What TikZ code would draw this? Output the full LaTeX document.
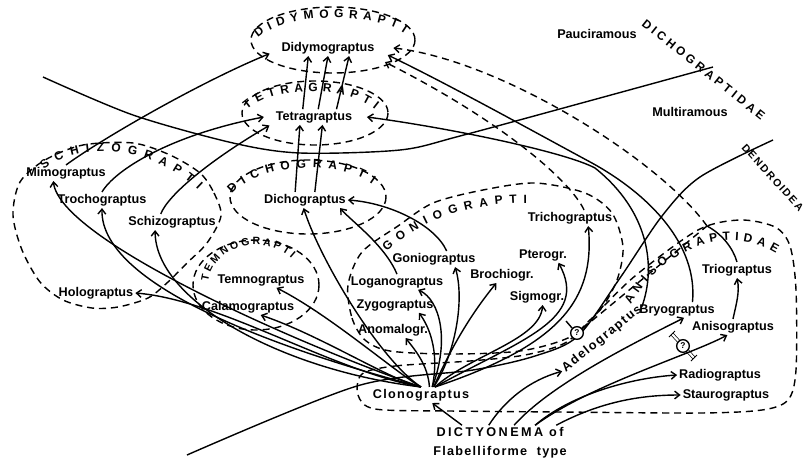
\documentclass[tikz,border=0pt]{standalone}
\usepackage{fontspec}
\setmainfont{Liberation Sans}
\newfontfamily\widefont[LetterSpace=19]{Liberation Sans}
\usetikzlibrary{arrows.meta,decorations.text}
\newcommand{\grpfont}{\fontsize{8.5}{9}\selectfont\bfseries}
\newcommand{\smgrpfont}{\fontsize{7.5}{8}\selectfont\bfseries}

\begin{document}
\begin{tikzpicture}[
  x=0.025cm, y=-0.025cm,
  line width=1pt,
  >={Straight Barb[length=3.5pt,width=5.5pt]},
  lbl/.style={font=\fontsize{9}{10}\selectfont\bfseries, inner sep=1pt},
  bnd/.style={dash pattern=on 5pt off 3.5pt},
  grp/.style={decorate, decoration={text along path, text align={fit to path},
    text={|\grpfont|#1}}},
  smgrp/.style={decorate, decoration={text along path, text align={fit to path},
    text={|\smgrpfont|#1}}},
  qmark/.style={circle, draw, fill=white, inner sep=0pt, minimum size=9pt,
    font=\fontsize{6}{6}\selectfont\bfseries}
]
  \fill[white] (0,0) rectangle (805,457);

  % group outlines
  \draw[bnd] (333,40) ellipse [x radius=82, y radius=33];
  \draw[bnd] (315,113) ellipse [x radius=73, y radius=32];
  \draw[bnd] (308,197) ellipse [x radius=78, y radius=37];
  \draw[bnd] (256,285) ellipse [x radius=63, y radius=45];
  \draw[bnd] plot[smooth cycle] coordinates {(200,173) (214,193) (221,216) (207,243)
    (187,263) (168,282) (148,298) (118,307) (92,308) (63,300) (40,282) (22,250)
    (13,215) (20,182) (45,160) (83,145) (133,143) (170,155)};
  \draw[bnd] plot[smooth cycle] coordinates {(348,285) (352,318) (365,340) (390,351)
    (450,354) (520,351) (570,337) (600,310) (617,280) (623,247) (612,213) (585,193)
    (535,183) (483,190) (433,203) (398,226) (362,252)};
  \draw[bnd] plot[smooth cycle] coordinates {(362,374) (395,366) (470,361) (525,355)
    (565,343) (592,318) (635,276) (698,230) (740,220) (775,227) (790,246) (796,290)
    (796,370) (788,400) (762,410) (700,413) (560,412) (450,411) (375,409) (358,395)};

  % dividing lines
  \draw plot[smooth] coordinates {(43,77) (133,115) (233,143) (300,153) (400,150)
    (460,136) (600,98) (713,67)};
  \draw plot[smooth] coordinates {(187,455) (357,386) (473,370) (535,356) (578,336)
    (620,278) (662,216) (700,177) (773,140)};

  % group names
  \path[grp=DIDYMOGRAPTI] (258,38) .. controls (285,12) and (375,12) .. (404,33);
  \path[grp=TETRAGRAPTI] (247,110) .. controls (275,85) and (345,85) .. (375,110);
  \path[grp=SCHIZOGRAPTI] (44,170) .. controls (75,143) and (150,143) .. (198,190);
  \path[grp=DICHOGRAPTI] (232,194) .. controls (260,162) and (340,160) .. (372,184);
  \path[smgrp=TEMNOGRAPTI] (208.2,281.5) arc[start angle=185, end angle=318,
    x radius=48, y radius=40];
  \path[grp=GONIOGRAPTI] (387,252) .. controls (420,220) and (470,203) .. (527,203);
  \path[grp=ANISOGRAPTIDAE] (631,305) .. controls (660,252) and (725,222) .. (776,253);
  \path[grp=DICHOGRAPTIDAE] (641,25) -- (761,121);
  \path[smgrp=DENDROIDEA] (741,148) -- (799,212);

  % genera
  \node[lbl] (didy) at (328,48) {Didymograptus};
  \node[lbl] (tetra) at (314,117) {Tetragraptus};
  \node[lbl] (dicho) at (305,200) {Dichograptus};
  \node[lbl] (mimo) at (66,173) {Mimograptus};
  \node[lbl] (trocho) at (102,200) {Trochograptus};
  \node[lbl] (schizo) at (172,222) {Schizograptus};
  \node[lbl] (holo) at (96,293) {Holograptus};
  \node[lbl] (temno) at (261,280) {Temnograptus};
  \node[lbl] (calamo) at (248,307) {Calamograptus};
  \node[lbl] (gonio) at (434,259) {Goniograptus};
  \node[lbl] (logano) at (397,282) {Loganograptus};
  \node[lbl] (zygo) at (395,305) {Zygograptus};
  \node[lbl] (anoma) at (393,330) {Anomalogr.};
  \node[lbl] (brochio) at (502,275) {Brochiogr.};
  \node[lbl] (pterogr) at (543,255) {Pterogr.};
  \node[lbl] (sigmo) at (537,297) {Sigmogr.};
  \node[lbl] (tricho) at (570,218) {Trichograptus};
  \node[lbl, font=\fontsize{9}{10}\selectfont\bfseries\addfontfeatures{LetterSpace=10}]
    (clono) at (421,395) {Clonograptus};
  \node[lbl, rotate=39,
    font=\fontsize{9}{10}\selectfont\bfseries\addfontfeatures{LetterSpace=12}]
    (adelo) at (602,339) {Adelograptus};
  \node[lbl] (bryo) at (677,310) {Bryograptus};
  \node[lbl] (aniso) at (733,327) {Anisograptus};
  \node[lbl] (trio) at (737,270) {Triograptus};
  \node[lbl] (radio) at (720,375) {Radiograptus};
  \node[lbl] (stauro) at (726,395) {Staurograptus};
  \node[lbl, font=\fontsize{9}{10}\selectfont\widefont\bfseries]
    (dicty) at (500,432) {DICTYONEMA of};
  \node[lbl, font=\fontsize{9}{10}\selectfont\bfseries\addfontfeatures{LetterSpace=10}]
    (flab) at (500,452) {Flabelliforme\ \ type};
  \node[lbl] (pauci) at (597,34) {Pauciramous};
  \node[lbl] (multi) at (690,112) {Multiramous};

  % Clonograptus fan, left side
  \draw[->] (clono.north) .. controls (300,345) and (60,240) .. ([xshift=-9pt]mimo.south);
  \draw[->] (clono.north) .. controls (300,355) and (100,290) .. (trocho.south);
  \draw[->] (clono.north) .. controls (280,370) and (155,300) .. ([xshift=-12pt]schizo.south);
  \draw[->] (clono.north) .. controls (330,370) and (220,300) .. (holo.east);
  \draw[->] (clono.north) .. controls (395,372) and (330,315) .. ([xshift=11pt]temno.south);
  \draw[->] (clono.north) .. controls (390,380) and (320,335) .. ([xshift=9pt]calamo.south);
  \draw[->] (clono.north) .. controls (380,360) and (320,260) .. ([xshift=-1pt]dicho.south);
  % Clonograptus fan, right side
  \draw[->] ([xshift=8pt]clono.north) .. controls (450,340) and (440,300) .. ([xshift=15pt]logano.south);
  \draw[->] ([xshift=8pt]clono.north) .. controls (440,350) and (428,325) .. ([xshift=17pt]zygo.south);
  \draw[->] ([xshift=6pt]clono.north) .. controls (428,365) and (415,350) .. ([xshift=9pt]anoma.south);
  \draw[->] ([xshift=9pt]clono.north) .. controls (455,355) and (465,300) .. ([xshift=15pt]gonio.south);
  \draw[->] ([xshift=9pt]clono.north) .. controls (450,350) and (470,315) .. ([xshift=-4pt]brochio.south);
  \draw[->] ([xshift=10pt]clono.north) .. controls (470,355) and (540,340) .. ([xshift=4pt]sigmo.south);
  \draw[->] ([xshift=10pt]clono.north) .. controls (520,340) and (590,320) .. ([xshift=11pt]pterogr.south);
  \draw[->] ([xshift=10pt]clono.north) .. controls (560,345) and (595,300) .. ([xshift=13pt]tricho.south);

  % into Dichograptus, Tetragraptus, Didymograptus
  \draw[->] (logano.north) .. controls (385,245) and (350,220) .. ([xshift=25pt]dicho.south);
  \draw[->] ([xshift=9pt]gonio.north) .. controls (435,225) and (390,203) .. (dicho.east);
  \draw[->] ([xshift=-7pt]dicho.north) -- ([xshift=-10pt]tetra.south);
  \draw[->] ([xshift=7pt]dicho.north) -- ([xshift=6pt]tetra.south);
  \draw[->] ([xshift=-8pt]tetra.north) -- ([xshift=-14pt]didy.south);
  \draw[->] ([xshift=3pt]tetra.north) -- (didy.south);
  \draw[->] ([xshift=16pt]tetra.north) -- ([xshift=15pt]didy.south);
  \draw[->] (mimo.north) .. controls (100,140) and (200,82) .. ([xshift=-7pt,yshift=-4pt]didy.west);
  \draw[->] (trocho.north) .. controls (115,170) and (170,135) .. ([xshift=-7pt]tetra.west);
  \draw[->] ([xshift=-8pt]schizo.north) .. controls (168,195) and (210,160)
    .. ([xshift=-3pt,yshift=-6pt]tetra.west);

  % long links from the right
  \draw[->] ([xshift=11pt]bryo.north) .. controls (698,245) and (650,195) .. (592,163)
    .. controls (540,135) and (450,85) .. ([xshift=8pt,yshift=-5pt]didy.east);
  \draw[->] (adelo.east) .. controls (656,268) and (650,212) .. (595,168)
    .. controls (565,152) and (450,128) .. ([xshift=9pt]tetra.east);
  \coordinate (j1) at (707,226);
  \draw (trio.north) .. controls (733,248) and (722,234) .. (j1);
  \draw[->, bnd] (j1) .. controls (660,160) and (500,60) .. ([xshift=12pt]didy.east);
  \draw[->, bnd] ([xshift=10pt]tricho.north) .. controls (570,180) and (500,120)
    .. ([xshift=6pt,yshift=-10pt]didy.east);

  % uncertain links
  \node[qmark] (q1) at (577,333) {?};
  \draw (q1.135) -- ++(-6,-7);
  \draw[bnd] (q1) -- (j1);
  \coordinate (q2a) at (672,334);
  \coordinate (q2b) at (694,358);
  \draw[double, double distance=1.5pt, line width=0.5pt] (q2a) -- (q2b);
  \draw[line width=0.6pt] (q2a) ++(-3,3) -- ++(6,-6);
  \draw[line width=0.6pt] (q2b) ++(-3,3) -- ++(6,-6);
  \node[qmark] (q2) at (683,346) {?};

  % from Dictyonema
  \draw[->] ([xshift=-27pt]dicty.north) -- ([xshift=8pt]clono.south);
  \draw[->] ([xshift=-8pt]dicty.north) .. controls (505,400) and (530,380) .. (adelo.west);
  \draw[->] ([xshift=10pt]dicty.north) .. controls (550,385) and (630,345) .. ([xshift=5pt]bryo.south);
  \draw[->] ([xshift=25pt]dicty.north) .. controls (570,395) and (630,378) .. (radio.west);
  \draw[->] ([xshift=25pt]dicty.north) .. controls (590,385) and (690,355) .. ([xshift=-4pt]aniso.south);
  \draw[->] ([xshift=40pt]dicty.north) .. controls (600,402) and (640,395) .. (stauro.west);
  \draw[->] (aniso.north) .. controls (736,305) and (740,292) .. (trio.south);
\end{tikzpicture}
\end{document}
